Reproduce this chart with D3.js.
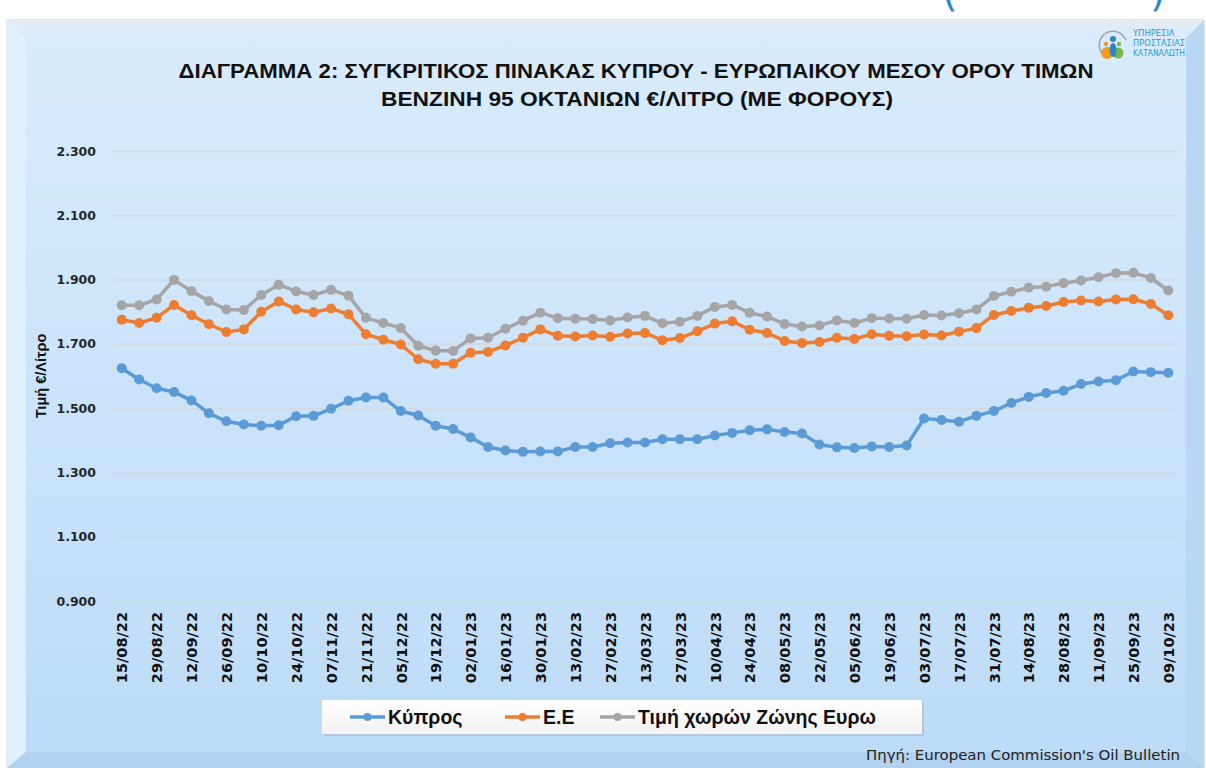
<!DOCTYPE html>
<html>
<head>
<meta charset="utf-8">
<script src="https://cdn.jsdelivr.net/npm/d3@7"></script>
<style>
  body { margin: 0; background: #ffffff; }
  svg { display: block; }
</style>
</head>
<body>
<div id="chart"></div>
<script>
const FRAME_WIDTH = 1206;
const FRAME_HEIGHT = 768;
const PLOT = {left: 113, right: 1177, top: 151, bottom: 601};

// weekly dates (Oil Bulletin)
const DATES = [
  "15/08/22","22/08/22","29/08/22","05/09/22","12/09/22","19/09/22","26/09/22","03/10/22","10/10/22","17/10/22",
  "24/10/22","31/10/22","07/11/22","14/11/22","21/11/22","28/11/22","05/12/22","12/12/22","19/12/22","26/12/22",
  "02/01/23","09/01/23","16/01/23","23/01/23","30/01/23","06/02/23","13/02/23","20/02/23","27/02/23","06/03/23",
  "13/03/23","20/03/23","27/03/23","03/04/23","10/04/23","17/04/23","24/04/23","01/05/23","08/05/23","15/05/23",
  "22/05/23","29/05/23","05/06/23","12/06/23","19/06/23","26/06/23","03/07/23","10/07/23","17/07/23","24/07/23",
  "31/07/23","07/08/23","14/08/23","21/08/23","28/08/23","04/09/23","11/09/23","18/09/23","25/09/23","02/10/23",
  "09/10/23"
];

const CYPRUS = [
  1.624,1.589,1.562,1.550,1.524,1.484,1.459,1.449,1.445,1.447,
  1.475,1.476,1.498,1.523,1.533,1.533,1.491,1.477,1.445,1.435,
  1.409,1.379,1.368,1.364,1.365,1.365,1.379,1.379,1.391,1.393,
  1.393,1.403,1.403,1.403,1.415,1.423,1.431,1.434,1.426,1.421,
  1.387,1.378,1.376,1.381,1.379,1.384,1.468,1.463,1.458,1.476,
  1.491,1.516,1.535,1.547,1.554,1.575,1.583,1.587,1.614,1.612,1.610
];
const EU = [
  1.775,1.765,1.781,1.821,1.789,1.761,1.737,1.745,1.800,1.832,
  1.807,1.798,1.810,1.792,1.730,1.713,1.698,1.652,1.638,1.638,
  1.672,1.675,1.695,1.719,1.745,1.725,1.723,1.726,1.722,1.732,
  1.734,1.711,1.718,1.739,1.763,1.770,1.744,1.734,1.709,1.703,
  1.706,1.719,1.715,1.730,1.725,1.724,1.729,1.726,1.738,1.749,
  1.790,1.802,1.812,1.818,1.830,1.835,1.832,1.838,1.839,1.824,1.789
];
const EUROZONE = [
  1.820,1.820,1.838,1.899,1.864,1.833,1.807,1.805,1.852,1.884,
  1.863,1.852,1.868,1.850,1.781,1.765,1.749,1.694,1.679,1.678,
  1.717,1.719,1.747,1.772,1.797,1.780,1.778,1.777,1.773,1.782,
  1.787,1.764,1.769,1.787,1.815,1.821,1.797,1.785,1.762,1.754,
  1.757,1.773,1.765,1.780,1.779,1.778,1.790,1.788,1.795,1.807,
  1.849,1.862,1.875,1.878,1.889,1.897,1.907,1.920,1.921,1.905,1.866
];

const SERIES_NAMES = ["Κύπρος", "Ε.Ε", "Τιμή χωρών Ζώνης Ευρω"];
const SERIES_COLORS = ["#5b9bd5", "#ed7d31", "#a5a5a5"];
const Y_TICKS = [0.9, 1.1, 1.3, 1.5, 1.7, 1.9, 2.1, 2.3];

const TITLE_1 = "ΔΙΑΓΡΑΜΜΑ 2: ΣΥΓΚΡΙΤΙΚΟΣ ΠΙΝΑΚΑΣ ΚΥΠΡΟΥ - ΕΥΡΩΠΑΙΚΟΥ ΜΕΣΟΥ ΟΡΟΥ ΤΙΜΩΝ";
const TITLE_2 = "ΒΕΝΖΙΝΗ 95 ΟΚΤΑΝΙΩΝ €/ΛΙΤΡΟ (ΜΕ ΦΟΡΟΥΣ)";

const svg = d3.select("#chart")
  .append("svg")
    .attr("width", FRAME_WIDTH)
    .attr("height", FRAME_HEIGHT);

const defs = svg.append("defs");
const grad = defs.append("linearGradient")
    .attr("id", "panel").attr("x1", 0).attr("y1", 0).attr("x2", 0).attr("y2", 1);
grad.append("stop").attr("offset", "0%").attr("stop-color", "#d9ecfd");
grad.append("stop").attr("offset", "100%").attr("stop-color", "#bddbf7");

const topGrad = defs.append("linearGradient")
    .attr("id", "topbev").attr("x1", 0).attr("y1", 0).attr("x2", 0).attr("y2", 1);
topGrad.append("stop").attr("offset", "0%").attr("stop-color", "#e6ecf1");
topGrad.append("stop").attr("offset", "100%").attr("stop-color", "#d8ebfc");

const legGrad = defs.append("linearGradient")
    .attr("id", "legbg").attr("x1", 0).attr("y1", 0).attr("x2", 0).attr("y2", 1);
legGrad.append("stop").attr("offset", "0%").attr("stop-color", "#ffffff");
legGrad.append("stop").attr("offset", "100%").attr("stop-color", "#f2f2f2");

// cut-off heading above the frame (only the bottoms of the brackets show)
svg.append("text").attr("x", 942).attr("y", 6)
  .attr("font-family", "DejaVu Sans").attr("font-size", 40).attr("fill", "#2e86c8")
  .text("(");
svg.append("text").attr("x", 1150).attr("y", 6)
  .attr("font-family", "DejaVu Sans").attr("font-size", 40).attr("fill", "#2e86c8")
  .text(")");

// bevelled frame
const O = {x0: 7, y0: 20, x1: 1204, y1: 768};
const I = {x0: 26, y0: 38, x1: 1186, y1: 752};
svg.append("rect")
  .attr("x", O.x0).attr("y", O.y0)
  .attr("width", O.x1 - O.x0).attr("height", O.y1 - O.y0)
  .attr("fill", "url(#panel)")
  .attr("stroke", "#d4d9de").attr("stroke-width", 1);

const bevels = [
  {pts: [[O.x0,O.y0],[O.x1,O.y0],[I.x1,I.y0],[I.x0,I.y0]], fill: "url(#topbev)"},
  {pts: [[O.x0,O.y0],[I.x0,I.y0],[I.x0,I.y1],[O.x0,O.y1]], fill: "#dff0fe"},
  {pts: [[O.x1,O.y0],[O.x1,O.y1],[I.x1,I.y1],[I.x1,I.y0]], fill: "#b9d7f3"},
  {pts: [[O.x0,O.y1],[I.x0,I.y1],[I.x1,I.y1],[O.x1,O.y1]], fill: "#b3d2ef"}
];
svg.selectAll(".bevel")
  .data(bevels)
  .enter()
  .append("polygon")
    .attr("class", "bevel")
    .attr("points", d => d.pts.map(p => p.join(",")).join(" "))
    .attr("fill", d => d.fill);

// title
svg.append("text")
  .attr("x", 636).attr("y", 78)
  .attr("text-anchor", "middle")
  .attr("font-family", "Liberation Sans").attr("font-weight", "bold")
  .attr("font-size", 20).attr("fill", "#111")
  .attr("textLength", 915).attr("lengthAdjust", "spacingAndGlyphs")
  .text(TITLE_1);
svg.append("text")
  .attr("x", 637).attr("y", 106)
  .attr("text-anchor", "middle")
  .attr("font-family", "Liberation Sans").attr("font-weight", "bold")
  .attr("font-size", 20).attr("fill", "#111")
  .attr("textLength", 512).attr("lengthAdjust", "spacingAndGlyphs")
  .text(TITLE_2);

// logo
const logo = svg.append("g").attr("transform", "translate(1113,45)");
logo.append("path")
  .attr("d", d3.arc()({innerRadius: 13, outerRadius: 14.5, startAngle: -2.2, endAngle: 1.2}))
  .attr("fill", "#9aa5ad");
logo.append("circle").attr("cx", -6).attr("cy", 8).attr("r", 6).attr("fill", "#f39a1e");
logo.append("circle").attr("cx", 5).attr("cy", 8).attr("r", 5.5).attr("fill", "#7ab648");
logo.append("ellipse").attr("cx", 0).attr("cy", 5).attr("rx", 3.5).attr("ry", 7).attr("fill", "#2b86c5");
logo.append("circle").attr("cx", 0).attr("cy", -6).attr("r", 3).attr("fill", "#2b86c5");
logo.append("circle").attr("cx", -7).attr("cy", -1).attr("r", 2.2).attr("fill", "#f39a1e");
logo.append("circle").attr("cx", 6).attr("cy", -1).attr("r", 2.2).attr("fill", "#7ab648");
const LOGO_LINES = ["ΥΠΗΡΕΣΙΑ", "ΠΡΟΣΤΑΣΙΑΣ", "ΚΑΤΑΝΑΛΩΤΗ"];
svg.selectAll(".logotxt")
  .data(LOGO_LINES)
  .enter()
  .append("text")
    .attr("class", "logotxt")
    .attr("x", 1133)
    .attr("y", (d, i) => 36 + i * 10)
    .attr("font-family", "DejaVu Sans").attr("font-size", 8.5)
    .attr("fill", "#2a9ad2")
    .attr("textLength", d => d.length * 5.2).attr("lengthAdjust", "spacingAndGlyphs")
    .text(d => d);

// scales
const X_SCALE = d3.scalePoint()
  .domain(DATES)
  .range([PLOT.left, PLOT.right])
  .padding(0.5);

const Y_SCALE = d3.scaleLinear()
  .domain([0.9, 2.3])
  .range([PLOT.bottom, PLOT.top]);

// y axis + gridlines
const yAxis = svg.append("g")
  .attr("transform", "translate(" + PLOT.left + ",0)")
  .call(d3.axisLeft(Y_SCALE)
    .tickValues(Y_TICKS)
    .tickFormat(d3.format(".3f"))
    .tickSize(-(PLOT.right - PLOT.left))
    .tickPadding(17));
yAxis.select(".domain").remove();
yAxis.selectAll(".tick line").attr("stroke", "#d3d9df").attr("stroke-width", 1.5);
yAxis.selectAll(".tick text")
  .attr("font-family", "DejaVu Sans").attr("font-weight", "bold")
  .attr("font-size", 12.5).attr("fill", "#262626");

// x axis
const xAxis = svg.append("g")
  .attr("transform", "translate(0," + PLOT.bottom + ")")
  .call(d3.axisBottom(X_SCALE)
    .tickValues(DATES.filter((d, i) => i % 2 === 0))
    .tickSize(0));
xAxis.select(".domain").remove();
xAxis.selectAll(".tick text")
  .attr("transform", "rotate(-90)")
  .attr("text-anchor", "end")
  .attr("x", -11).attr("y", 0).attr("dy", "0.36em")
  .attr("font-family", "DejaVu Sans").attr("font-weight", "bold")
  .attr("font-size", 14.5).attr("fill", "#111");

// y axis title
svg.append("text")
  .attr("transform", "translate(46,376) rotate(-90)")
  .attr("text-anchor", "middle")
  .attr("font-family", "Liberation Sans").attr("font-weight", "bold")
  .attr("font-size", 14.5).attr("fill", "#111")
  .text("Τιμή €/Λίτρο");

// lines
const SERIES = [CYPRUS, EU, EUROZONE];
const line = d3.line()
  .x((d, i) => X_SCALE(DATES[i]))
  .y(d => Y_SCALE(d));

SERIES.forEach((vals, s) => {
  svg.append("path")
    .datum(vals)
    .attr("d", line)
    .attr("fill", "none")
    .attr("stroke", SERIES_COLORS[s])
    .attr("stroke-width", 3.5)
    .attr("stroke-linejoin", "round");
  svg.selectAll(".pt" + s)
    .data(vals)
    .enter()
    .append("circle")
      .attr("class", "pt" + s)
      .attr("cx", (d, i) => X_SCALE(DATES[i]))
      .attr("cy", d => Y_SCALE(d))
      .attr("r", 5)
      .attr("fill", SERIES_COLORS[s]);
});

// legend
const LEGEND_X = [350, 505, 600];
svg.append("rect")
  .attr("x", 324).attr("y", 702).attr("width", 600).attr("height", 34)
  .attr("fill", "#a9bccd").attr("opacity", 0.6);
svg.append("rect")
  .attr("x", 322).attr("y", 700).attr("width", 600).attr("height", 34)
  .attr("fill", "url(#legbg)");
const leg = svg.selectAll(".legitem")
  .data(SERIES_NAMES)
  .enter()
  .append("g")
    .attr("class", "legitem")
    .attr("transform", (d, i) => "translate(" + LEGEND_X[i] + ",717)");
leg.append("line")
  .attr("x1", 0).attr("x2", 35)
  .attr("stroke", (d, i) => SERIES_COLORS[i]).attr("stroke-width", 3.5);
leg.append("circle")
  .attr("cx", 17.5).attr("r", 4)
  .attr("fill", (d, i) => SERIES_COLORS[i]);
leg.append("text")
  .attr("x", 38).attr("y", 7)
  .attr("font-family", "Liberation Sans").attr("font-weight", "bold")
  .attr("font-size", 19.5).attr("fill", "#111")
  .text(d => d);

// source
svg.append("text")
  .attr("x", 1180).attr("y", 760)
  .attr("text-anchor", "end")
  .attr("font-family", "DejaVu Sans").attr("font-size", 14).attr("fill", "#222")
  .attr("textLength", 314).attr("lengthAdjust", "spacingAndGlyphs")
  .text("Πηγή: European Commission's Oil Bulletin");
</script>
</body>
</html>
